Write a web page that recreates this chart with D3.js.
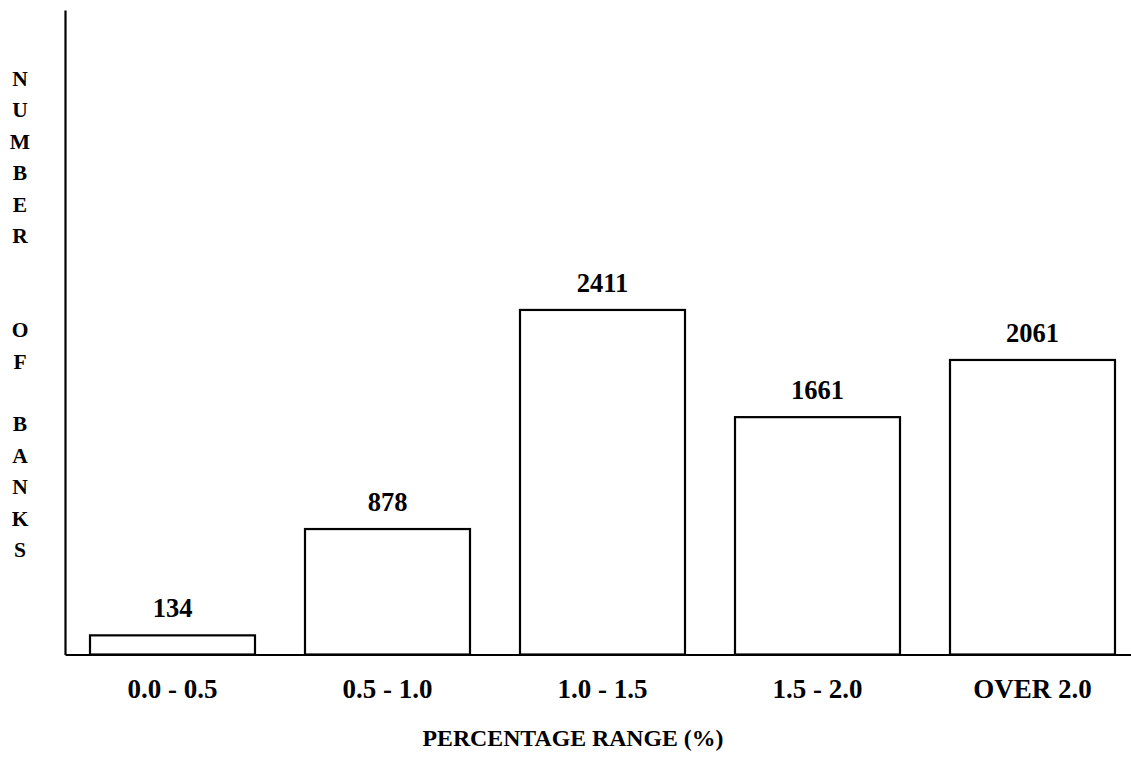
<!DOCTYPE html>
<html>
<head>
<meta charset="utf-8">
<script src="https://cdn.jsdelivr.net/npm/d3@7/dist/d3.min.js"></script>
<style>
  html, body { margin: 0; padding: 0; background: #fff; }
  svg { display: block; }
  text { font-family: "Liberation Serif", "Times New Roman", serif; font-weight: bold; fill: #000; }
</style>
</head>
<body>
<svg id="chart" width="1131" height="758"></svg>
<script>
const categories = ["0.0 - 0.5", "0.5 - 1.0", "1.0 - 1.5", "1.5 - 2.0", "OVER 2.0"];
const values = [134, 878, 2411, 1661, 2061];
const yAxisLetters = ["N","U","M","B","E","R","","","O","F","","B","A","N","K","S"];
const xAxisTitle = "PERCENTAGE RANGE (%)";
const yTop = 4510;

const svg = d3.select("#chart");

const x = d3.scaleBand()
  .domain(categories)
  .range([65, 1140])
  .paddingInner(50 / 215)
  .paddingOuter(25 / 215);

const y = d3.scaleLinear()
  .domain([0, yTop])
  .range([654.5, 10]);

// bars
svg.append("g").selectAll("rect")
  .data(values)
  .join("rect")
  .attr("x", (d, i) => x(categories[i]))
  .attr("y", d => y(d))
  .attr("width", x.bandwidth())
  .attr("height", d => y(0) - y(d))
  .attr("fill", "#fff")
  .attr("stroke", "#000")
  .attr("stroke-width", 2.2);

// value labels
svg.append("g").selectAll("text")
  .data(values)
  .join("text")
  .attr("x", (d, i) => x(categories[i]) + x.bandwidth() / 2)
  .attr("y", d => y(d) - 18)
  .attr("text-anchor", "middle")
  .style("font-size", "26.5px")
  .text(d => d);

// x axis
const xAxis = svg.append("g")
  .attr("transform", `translate(0,${y(0)})`)
  .call(d3.axisBottom(x).tickSize(0).tickSizeOuter(0).tickPadding(0));
xAxis.select(".domain").attr("stroke", "#000").attr("stroke-width", 2.2);
xAxis.selectAll(".tick text")
  .attr("y", 43.5)
  .attr("dy", 0)
  .style("font-size", "27px")
  .style("font-family", "'Liberation Serif', 'Times New Roman', serif")
  .style("font-weight", "bold")
  .attr("fill", "#000");

// y axis
const yAxis = svg.append("g")
  .attr("transform", "translate(65,0)")
  .call(d3.axisLeft(y).tickValues([]).tickSizeOuter(0));
yAxis.select(".domain").attr("stroke", "#000").attr("stroke-width", 2.2);

// y axis title as stacked letters
svg.append("g").selectAll("text")
  .data(yAxisLetters)
  .join("text")
  .attr("x", 20)
  .attr("y", (d, i) => 86 + i * 31.4)
  .attr("text-anchor", "middle")
  .style("font-size", "21.5px")
  .text(d => d);

// x axis title
svg.append("text")
  .attr("x", 573)
  .attr("y", 746)
  .attr("text-anchor", "middle")
  .style("font-size", "23.8px")
  .text(xAxisTitle);
</script>
</body>
</html>
